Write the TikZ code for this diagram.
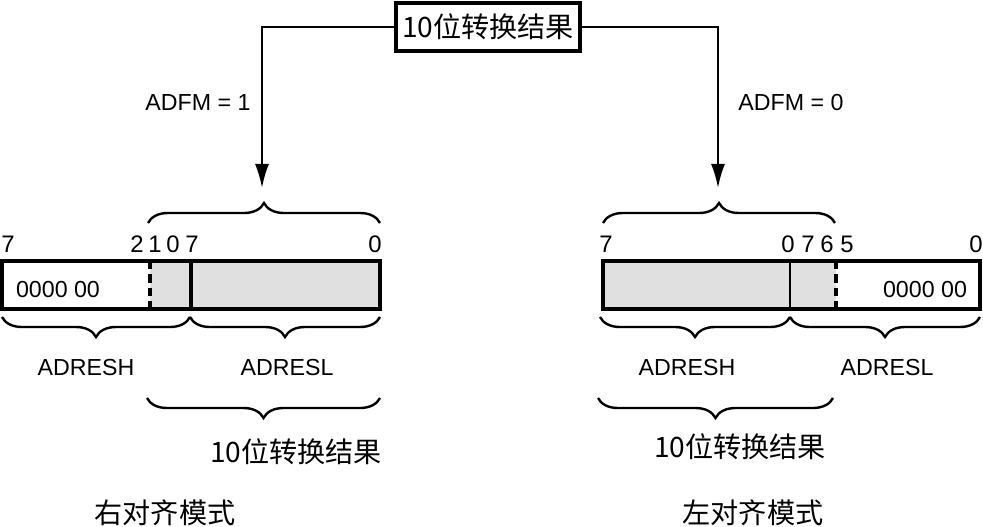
\documentclass[tikz,border=0pt]{standalone}
\usepackage{fontspec}
\setmainfont{Liberation Sans}
\newfontfamily\cjk{Noto Sans CJK SC}
\usetikzlibrary{arrows.meta,decorations.pathreplacing}

\begin{document}
\begin{tikzpicture}[
    x=0.025cm, y=-0.025cm,
    lbl/.style={font=\fontsize{16.5}{19}\selectfont, inner sep=0pt},
    bitno/.style={font=\fontsize{17}{20}\selectfont, inner sep=0pt},
    cjklbl/.style={font=\cjk\fontsize{20}{24}\selectfont, inner sep=0pt},
    result/.style={draw, line width=2.2pt, font=\cjk\fontsize{20}{24}\selectfont,
        minimum width=4.6cm, minimum height=1.2cm, inner sep=0pt},
    regline/.style={line width=2.3pt},
    divdash/.style={line width=2.3pt, dash pattern=on 6pt off 3.5pt},
    brc/.style={decorate, decoration={brace, amplitude=0.5cm}, line width=1.7pt},
    flow/.style={-{Latex[length=6mm,width=3.5mm]}, line width=1.6pt}
]
\useasboundingbox (0,0) rectangle (983,526);

% Result box and the two paths
\node[result] (res) at (488,27) {10位转换结果};
\coordinate (larrow) at (262,188);
\coordinate (rarrow) at (718,188);
\draw[flow] (res.west) -| (larrow);
\draw[flow] (res.east) -| (rarrow);
\node[lbl] (adfm1) at (198,103) {ADFM = 1};
\node[lbl] (adfm0) at (791,103) {ADFM = 0};

% Right justified
\fill[black!12] (150,261) rectangle (380,309);
\draw[regline] (2,261) rectangle (380,309);
\draw[divdash] (150,261) -- (150,309);
\draw[regline] (191,261) -- (191,309);
\node[lbl] (lzero) at (58,290) {0000 00};
\node[bitno] (lb7) at (8,244) {7};
\node[bitno] (lb2) at (137,244) {2};
\node[bitno] (lb1) at (155,244) {1};
\node[bitno] (lb0) at (173,244) {0};
\node[bitno] (ll7) at (192,244) {7};
\node[bitno] (ll0) at (375,244) {0};
\draw[brc] (148,223) -- (380,223);
\draw[brc] (190,317) -- (2,317);
\draw[brc] (380,317) -- (190,317);
\node[lbl] (ladresh) at (86,368) {ADRESH};
\node[lbl] (ladresl) at (287,368) {ADRESL};
\draw[brc] (380,398) -- (147,398);
\node[cjklbl] (lres) at (296,452) {10位转换结果};
\node[cjklbl] (lmode) at (165,513) {右对齐模式};

% Left justified
\fill[black!12] (603,261) rectangle (836,309);
\draw[regline] (603,261) rectangle (980,309);
\draw[line width=1.2pt] (790,261) -- (790,309);
\draw[divdash] (836,261) -- (836,309);
\node[lbl] (rzero) at (925,290) {0000 00};
\node[bitno] (rh7) at (606,244) {7};
\node[bitno] (rh0) at (788,244) {0};
\node[bitno] (rl7) at (808,244) {7};
\node[bitno] (rl6) at (827,244) {6};
\node[bitno] (rl5) at (847,244) {5};
\node[bitno] (rl0) at (976,244) {0};
\draw[brc] (603,223) -- (835,223);
\draw[brc] (790,317) -- (600,317);
\draw[brc] (980,317) -- (790,317);
\node[lbl] (radresh) at (687,368) {ADRESH};
\node[lbl] (radresl) at (887,368) {ADRESL};
\draw[brc] (833,398) -- (598,398);
\node[cjklbl] (rres) at (740,447) {10位转换结果};
\node[cjklbl] (rmode) at (753,513) {左对齐模式};

\end{tikzpicture}
\end{document}
